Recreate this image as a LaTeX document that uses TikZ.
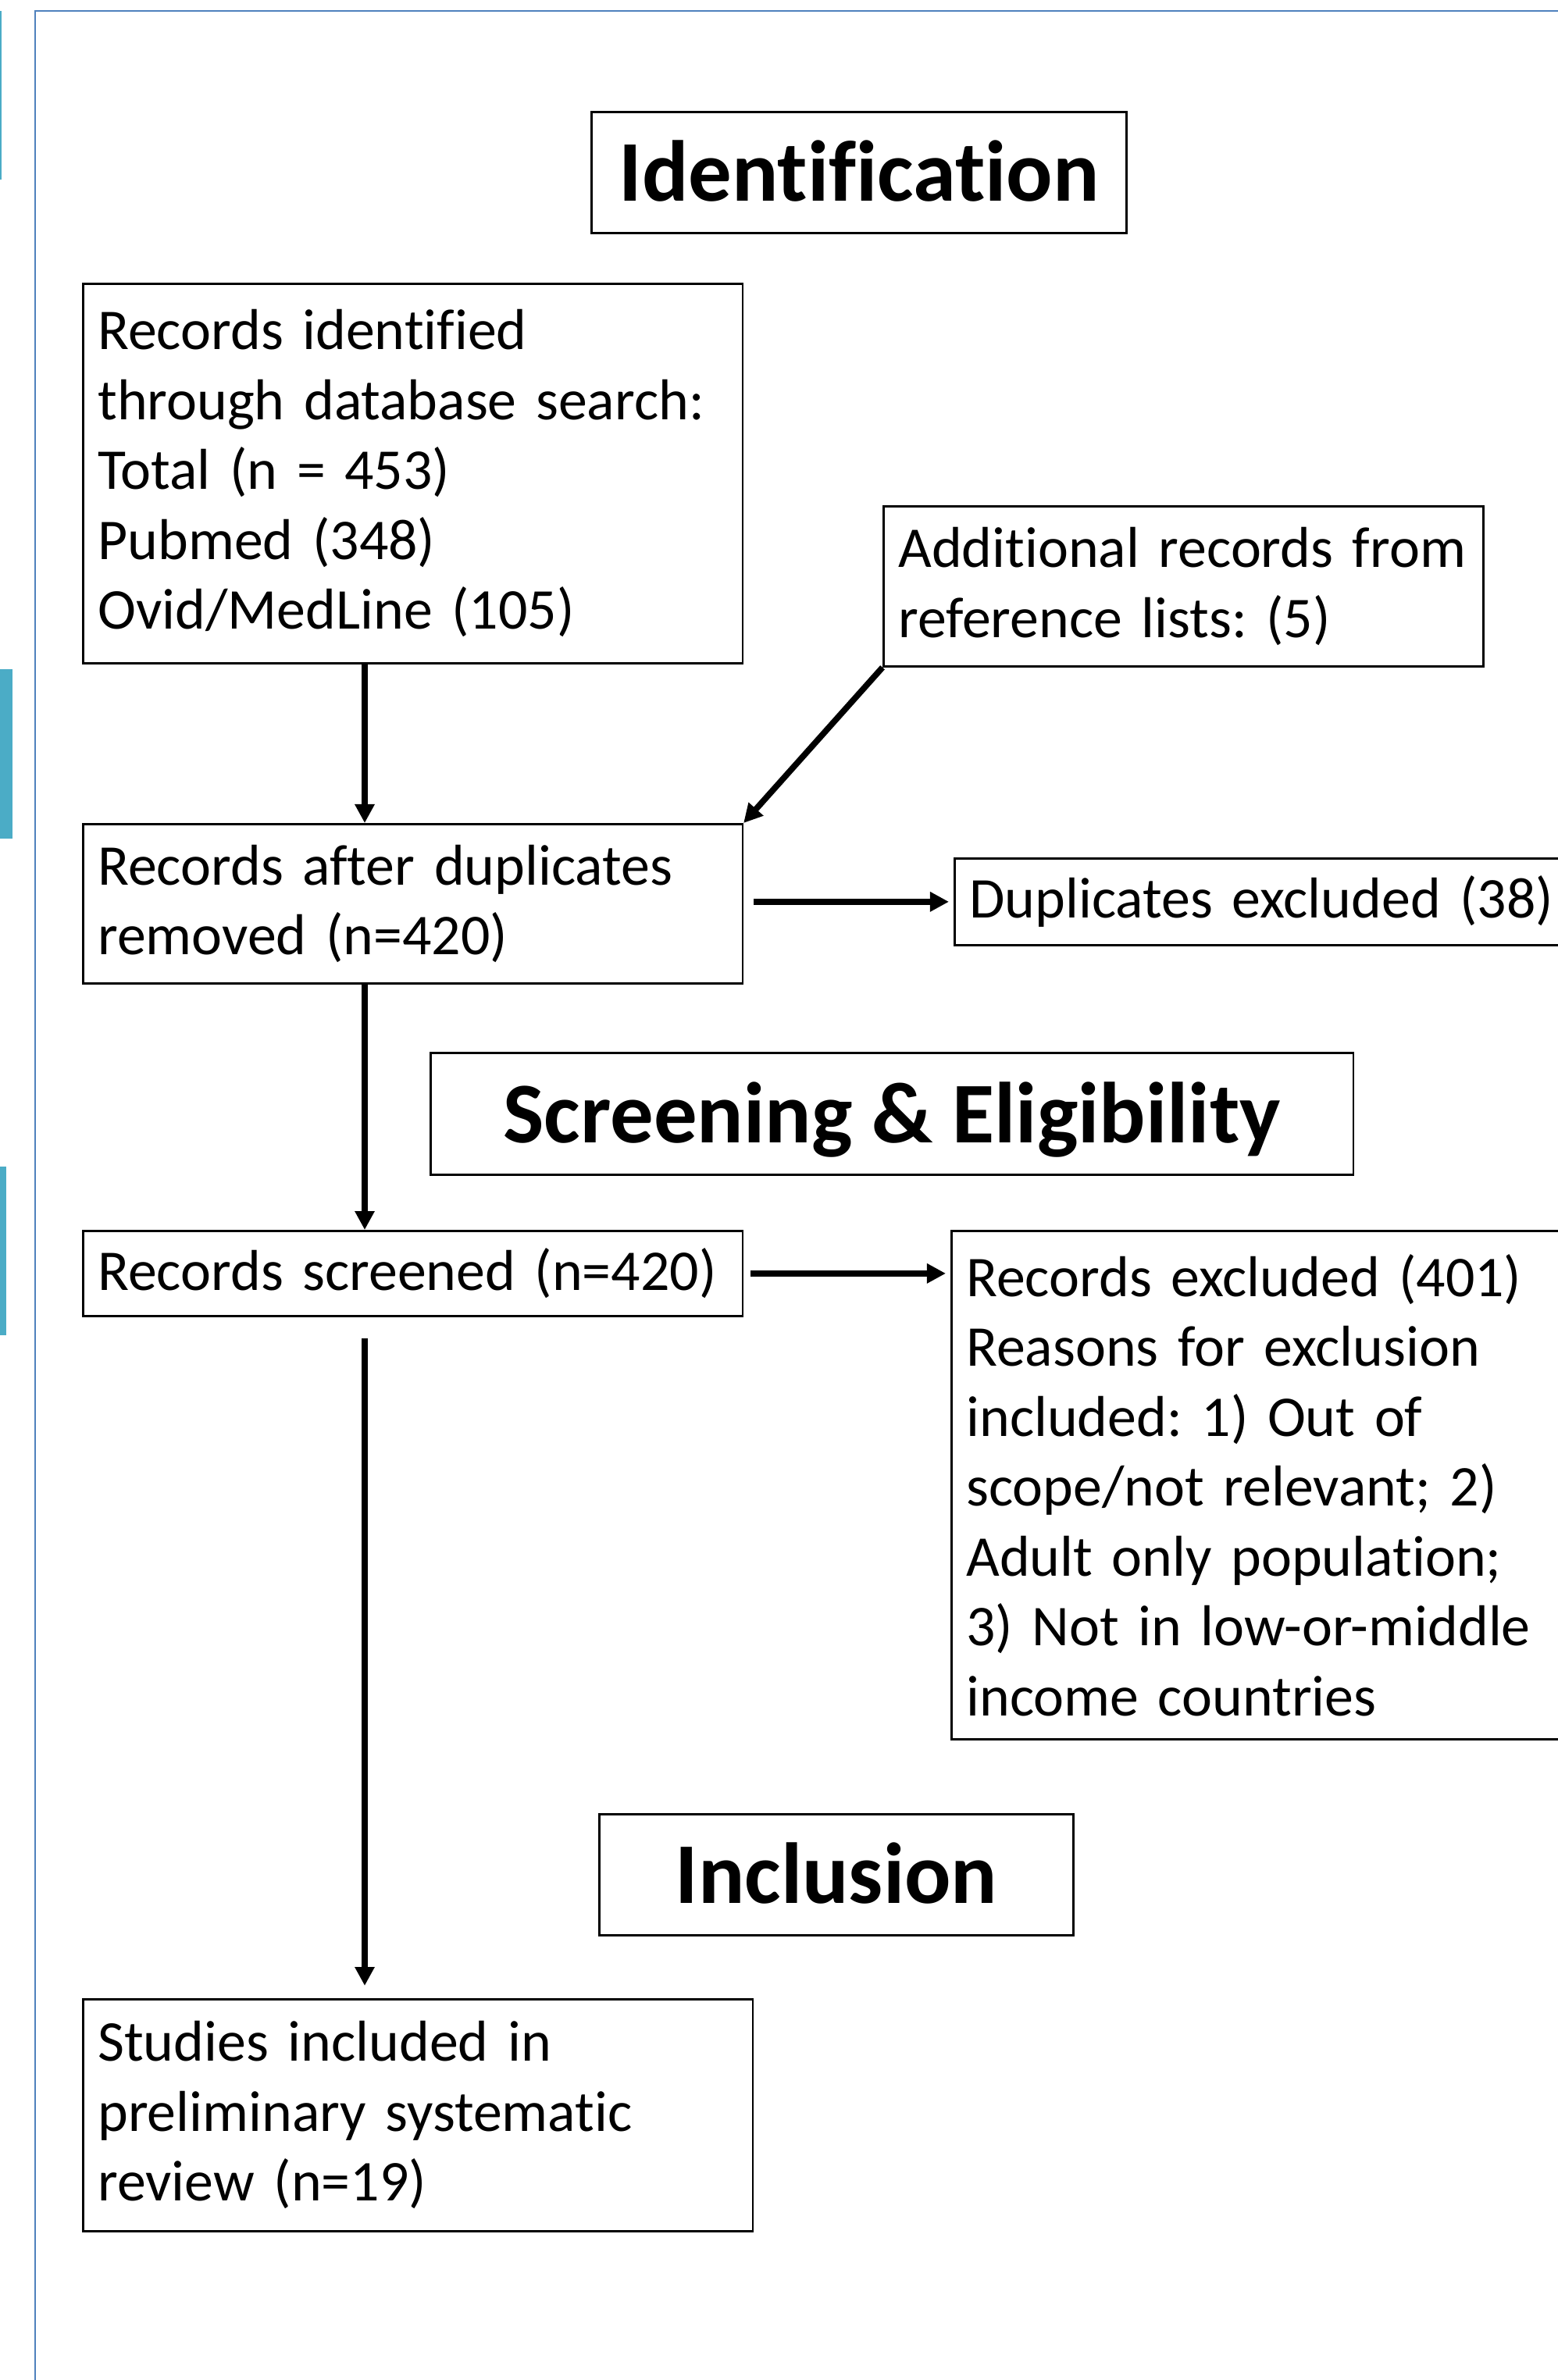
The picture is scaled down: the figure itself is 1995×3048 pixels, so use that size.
\documentclass[tikz,border=0pt]{standalone}
\usepackage{fontspec}
\setmainfont{Carlito}[Ligatures=NoCommon]
\usetikzlibrary{arrows.meta}
\definecolor{framecol}{HTML}{4F81BD}
\definecolor{barcol}{HTML}{4BACC6}
\frenchspacing

\begin{document}
\begin{tikzpicture}[x=0.01cm,y=-0.01cm]

    % let's define some key values
    \def\xleft{105}
    \def\xarrow{467}

    % Styles
    \tikzstyle{stage}=[draw, line width=0.75pt, anchor=north west, inner sep=0pt,
        text height=0.74cm, text depth=0cm, font=\fontsize{31.5}{38}\selectfont\bfseries]
    \tikzstyle{record}=[draw, line width=0.75pt, anchor=north west, inner xsep=0.19cm,
        inner ysep=0pt, align=left, font=\fontsize{21}{25.45}\selectfont]
    \tikzstyle{flow}=[-{Triangle[length=0.24cm,width=0.24cm]}, line width=2.2pt]

    % page size
    \useasboundingbox (0,0) rectangle (1995,3048);
    \clip (0,0) rectangle (1995,3048);

    % slide frame
    \draw[framecol, line width=0.7pt] (45,3100) -- (45,14) -- (2100,14);

    % side bars
    \fill[barcol] (0,14) rectangle (2,230);
    \fill[barcol] (0,857) rectangle (16,1074);
    \fill[barcol] (0,1494) rectangle (8,1710);

    % Identification stage
    \node[stage, minimum width=6.85cm, minimum height=1.55cm] (ident) at (756,142) {Identification};

    % database search
    \node[record, text width=8.06cm, minimum height=4.86cm] (dbsearch) at (\xleft,362)
        {Records identified\\ through database search:\\ Total (n = 453)\\ Pubmed (348)\\ Ovid/MedLine (105)};

    % reference lists
    \node[record, text width=7.30cm, minimum height=2.05cm] (reflists) at (1130,647)
        {Additional records from\\ reference lists: (5)};

    % after duplicates
    \node[record, text width=8.06cm, minimum height=2.04cm] (dedup) at (\xleft,1054)
        {Records after duplicates\\ removed (n=420)};

    % duplicates excluded
    \node[record, text width=8.62cm, minimum height=1.11cm] (dupl) at (1221,1098)
        {Duplicates excluded (38)};

    % Screening stage
    \node[stage, minimum width=11.81cm, minimum height=1.56cm] (screen) at (550,1347) {Screening \& Eligibility};

    % screened
    \node[record, text width=8.06cm, minimum height=1.09cm] (screened) at (\xleft,1575)
        {Records screened (n=420)};

    % excluded
    \node[record, text width=8.62cm, minimum height=6.51cm] (excl) at (1217,1575)
        {Records excluded (401)\\ Reasons for exclusion\\ included: 1) Out of\\ scope/not relevant; 2)\\
         Adult only population;\\ 3) Not in low-or-middle\\ income countries};

    % Inclusion stage
    \node[stage, minimum width=6.07cm, minimum height=1.55cm] (incl) at (766,2322) {Inclusion};

    % included studies
    \node[record, text width=8.19cm, minimum height=2.97cm] (included) at (\xleft,2559)
        {Studies included in\\ preliminary systematic\\ review (n=19)};

    % main flow
    \coordinate (spine) at (\xarrow,0);
    \draw[flow] (dbsearch.south -| spine) -- (dedup.north -| spine);
    \draw[flow] (dedup.south -| spine) -- (screened.north -| spine);
    \draw[flow, shorten <=0.27cm, shorten >=0.16cm] (screened.south -| spine) -- (included.north -| spine);

    % side flows
    \draw[flow] (reflists.south west) -- (dedup.north east);
    \draw[flow, shorten <=0.13cm, shorten >=0.06cm] (dedup.east |- dupl.west) -- (dupl.west);
    \draw[flow, shorten <=0.09cm, shorten >=0.06cm] (screened.east) -- (screened.east -| excl.west);

\end{tikzpicture}
\end{document}
